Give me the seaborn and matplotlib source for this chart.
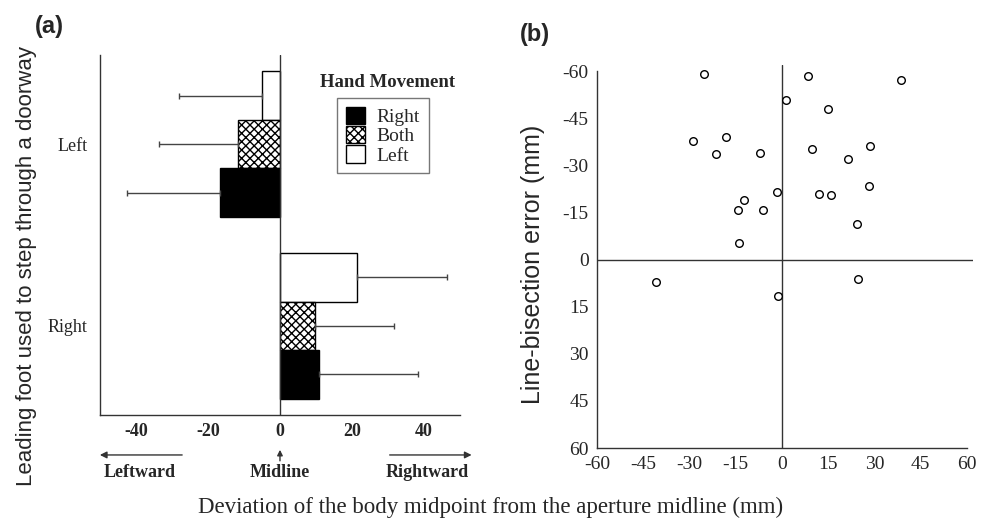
import pandas as pd
import matplotlib.pyplot as plt
import seaborn as sns
from matplotlib.patches import Patch

# panel (a): mean deviation per leading foot / hand movement
feet = ["Left", "Right"]
hands = ["Left", "Both", "Right"]
mean_left_foot = [-5.0, -11.7, -16.7]
mean_right_foot = [21.5, 9.7, 10.8]
sd_left_foot = [23.0, 21.8, 25.8]
sd_right_foot = [24.8, 22.1, 27.4]

# panel (b): deviation vs line-bisection error
dev_x = [-25.4, 8.4, 38.7, 1.4, 14.8, -28.8, -18.1, -21.4, -7.1, 9.7, 28.5, 21.3,
         -1.6, 12.1, 15.9, 28.2, -12.2, -14.2, -6.2, -13.9, 24.2, -40.8, -1.3, 24.6]
bis_err = [-59.0, -58.5, -57.3, -50.7, -48.1, -37.8, -39.0, -33.8, -34.1, -35.4, -36.1, -32.2,
           -21.7, -21.0, -20.5, -23.4, -18.9, -15.9, -15.9, -5.4, -11.3, 7.2, 11.7, 6.2]

sns.set_style("white")
plt.rcParams["font.family"] = ["Liberation Serif", "DejaVu Serif"]
plt.rcParams["axes.unicode_minus"] = False

df = pd.DataFrame({
    "foot": ["Left"] * 3 + ["Right"] * 3,
    "hand": hands * 2,
    "dev": mean_left_foot + mean_right_foot,
    "sd": sd_left_foot + sd_right_foot,
})

fig = plt.figure(figsize=(9.81, 5.29), dpi=100)

# ---- (a) ----
ax = fig.add_axes([0.1019, 0.2155, 0.367, 0.6805])
sns.barplot(data=df, x="dev", y="foot", hue="hand", hue_order=hands, order=feet,
            orient="h", width=0.8, errorbar=None, legend=False,
            palette={"Left": "white", "Both": "white", "Right": "black"},
            edgecolor="black", linewidth=1, ax=ax)
for h, cont in zip(hands, ax.containers):
    if h == "Both":
        for b in cont:
            b.set_hatch("xxxx")
    for f, b in zip(feet, cont):
        row = df[(df.foot == f) & (df.hand == h)].iloc[0]
        yc = b.get_y() + b.get_height() / 2
        xe = [[row.sd], [0]] if row.dev < 0 else [[0], [row.sd]]
        ax.errorbar(row.dev, yc, xerr=xe, fmt="none", ecolor="#444444",
                    elinewidth=1, capsize=2, capthick=1)

ax.axvline(0, color="#333333", lw=1)
ax.set_xlim(-50, 50)
ax.set_xticks([-40, -20, 0, 20, 40])
ax.set_xlabel("")
ax.set_ylabel("")
for s in ["top", "right"]:
    ax.spines[s].set_visible(False)
for s in ["left", "bottom"]:
    ax.spines[s].set_color("#333333")
    ax.spines[s].set_linewidth(1)
ax.tick_params(axis="x", direction="in", length=5, color="#333333", labelsize=13, pad=6)
ax.tick_params(axis="y", length=0, labelsize=13, pad=9)
for t in ax.get_xticklabels():
    t.set_fontweight("bold")

handles = [Patch(facecolor="black", edgecolor="black", label="Right"),
           Patch(facecolor="white", edgecolor="black", hatch="xxxx", label="Both"),
           Patch(facecolor="white", edgecolor="black", label="Left")]
leg = ax.legend(handles=handles, loc="upper left", bbox_to_anchor=(0.658, 0.881),
                frameon=True, fancybox=False, edgecolor="#555555", fontsize=14,
                handlelength=1.0, handleheight=1.0, handletextpad=0.6,
                labelspacing=0.0, borderpad=0.45, borderaxespad=0)
leg.get_frame().set_linewidth(1)
ax.text(0.8, 0.925, "Hand Movement", transform=ax.transAxes, ha="center", va="center",
        fontsize=13.5, fontweight="bold")

tr = ax.get_xaxis_transform()
ax.annotate("", xy=(-50.8, -0.111), xytext=(-26.4, -0.111), xycoords=tr, textcoords=tr,
            arrowprops=dict(arrowstyle="-|>", color="#333333", lw=1, mutation_scale=10),
            annotation_clip=False)
ax.annotate("", xy=(54, -0.111), xytext=(29.7, -0.111), xycoords=tr, textcoords=tr,
            arrowprops=dict(arrowstyle="-|>", color="#333333", lw=1, mutation_scale=10),
            annotation_clip=False)
ax.annotate("", xy=(0, -0.089), xytext=(0, -0.135), xycoords=tr, textcoords=tr,
            arrowprops=dict(arrowstyle="-|>", color="#333333", lw=1, mutation_scale=8),
            annotation_clip=False)
for xt, lab in [(-38.9, "Leftward"), (0, "Midline"), (41, "Rightward")]:
    ax.text(xt, -0.16, lab, transform=tr, ha="center", va="center", fontsize=13,
            fontweight="bold", clip_on=False)

# ---- (b) ----
ax2 = fig.add_axes([0.6086, 0.1531, 0.3833, 0.724])
sns.scatterplot(x=dev_x, y=bis_err, marker="o", s=30, facecolor="white",
                edgecolor="black", linewidth=1, ax=ax2, zorder=3)
ax2.axhline(0, color="#333333", lw=1)
ax2.axvline(0, color="#333333", lw=1)
ax2.set_xlim(-60, 62)
ax2.set_ylim(60, -62)
ax2.set_xticks(range(-60, 61, 15))
ax2.set_yticks(range(-60, 61, 15))
for s in ["top", "right"]:
    ax2.spines[s].set_visible(False)
ax2.spines["bottom"].set_bounds(-60, 60)
ax2.spines["left"].set_bounds(60, -60)
for s in ["left", "bottom"]:
    ax2.spines[s].set_color("#333333")
    ax2.spines[s].set_linewidth(1)
ax2.tick_params(direction="in", length=5, color="#333333", labelsize=14, pad=6)

# figure level labels
fig.text(0.05, 0.949, "(a)", fontsize=17, fontweight="bold", family="Liberation Sans",
         ha="center", va="center")
fig.text(0.545, 0.934, "(b)", fontsize=17, fontweight="bold", family="Liberation Sans",
         ha="center", va="center")
fig.text(0.027, 0.497, "Leading foot used to step through a doorway", rotation=90,
         fontsize=16, family="Liberation Sans", ha="center", va="center")
fig.text(0.543, 0.501, "Line-bisection error (mm)", rotation=90,
         fontsize=18, family="Liberation Sans", ha="center", va="center")
fig.text(0.5, 0.04, "Deviation of the body midpoint from the aperture midline (mm)",
         fontsize=16.5, ha="center", va="center")

fig.savefig("out.png", dpi=100)
